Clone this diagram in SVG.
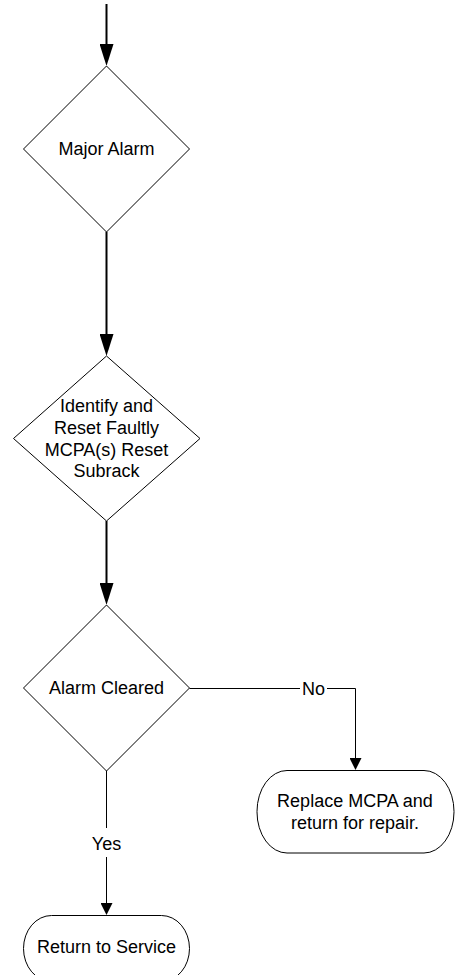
<svg xmlns="http://www.w3.org/2000/svg" width="458" height="975" viewBox="0 0 458 975">
  <style>
    .shape { fill: #fff; stroke: #000; stroke-width: 1; }
    .lbl { font-family: "Liberation Sans", Arial, sans-serif; font-size: 18px; fill: #000; text-anchor: middle; }
    .flow { fill: none; stroke: #000; stroke-width: 2; }
    .thin { fill: none; stroke: #000; stroke-width: 1; }
  </style>
  <defs>
    <marker id="headBold" markerUnits="userSpaceOnUse" markerWidth="22" markerHeight="14" refX="0" refY="7" orient="auto">
      <path d="M0,0 L22,7 L0,14 Z" fill="#000"/>
    </marker>
    <marker id="headThin" markerUnits="userSpaceOnUse" markerWidth="12" markerHeight="12" refX="0" refY="6" orient="auto">
      <path d="M0,0 L12,6 L0,12 Z" fill="#000"/>
    </marker>
  </defs>

  <rect width="458" height="975" fill="#fff"/>

  <!-- connectors -->
  <g id="connectors">
    <path class="flow" d="M106.5,4 V44" marker-end="url(#headBold)"/>
    <path class="flow" d="M106.5,232 V334" marker-end="url(#headBold)"/>
    <path class="flow" d="M106.5,521 V583" marker-end="url(#headBold)"/>
    <path class="thin" d="M189.5,688.5 H300"/>
    <path class="thin" d="M327,688.5 H355.5 V758" marker-end="url(#headThin)"/>
    <text class="lbl" x="313.5" y="694.5">No</text>
    <path class="thin" d="M106.5,771 V828"/>
    <path class="thin" d="M106.5,857 V903" marker-end="url(#headThin)"/>
    <text class="lbl" x="106.5" y="849.5">Yes</text>
  </g>

  <g id="major-alarm">
    <polygon class="shape" points="106.5,66 189.5,149 106.5,232 23.5,149"/>
    <text class="lbl" x="106.5" y="155">Major Alarm</text>
  </g>

  <g id="identify-reset">
    <polygon class="shape" points="106.5,356 200,438.5 106.5,521 13.5,438.5"/>
    <text class="lbl" x="106.5" y="411.7">Identify and</text>
    <text class="lbl" x="106.5" y="434">Reset Faultly</text>
    <text class="lbl" x="106.5" y="456">MCPA(s) Reset</text>
    <text class="lbl" x="106.5" y="477.3">Subrack</text>
  </g>

  <g id="alarm-cleared">
    <polygon class="shape" points="106.5,605 189.5,688 106.5,771 23.5,688"/>
    <text class="lbl" x="106.5" y="694">Alarm Cleared</text>
  </g>

  <g id="replace-mcpa">
    <rect class="shape" x="257" y="770.5" width="197" height="82.5" rx="30" ry="41"/>
    <text class="lbl" x="355" y="807.3">Replace MCPA and</text>
    <text class="lbl" x="355" y="829">return for repair.</text>
  </g>

  <g id="return-service">
    <rect class="shape" x="23.5" y="915.5" width="166" height="66" rx="28" ry="33"/>
    <text class="lbl" x="106.5" y="952.7">Return to Service</text>
  </g>
</svg>
